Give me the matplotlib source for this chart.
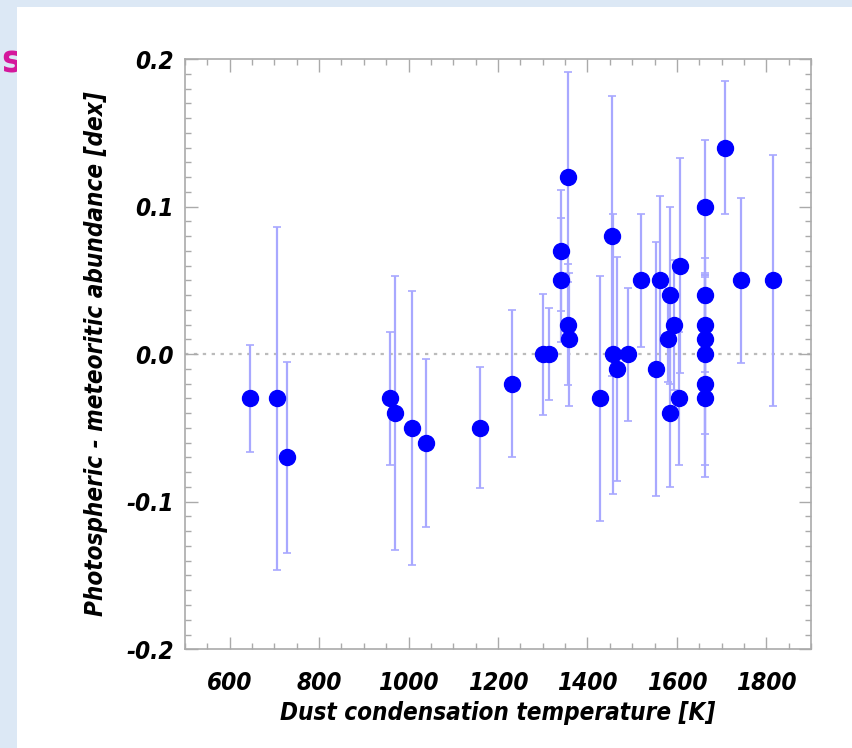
import matplotlib

matplotlib.use("Agg")
import matplotlib.pyplot as plt
from matplotlib.patches import Rectangle
from matplotlib.ticker import MultipleLocator

plt.rcParams["font.family"] = ["DejaVu Sans"]
plt.rcParams["font.stretch"] = "condensed"
plt.rcParams["font.weight"] = "bold"
plt.rcParams["font.style"] = "italic"
plt.rcParams["axes.labelweight"] = "bold"

# condensation temperature [K], abundance difference [dex], 1-sigma error [dex]
temps = [645, 705, 728, 959, 970, 1008, 1039, 1160, 1232, 1300, 1315,
         1340, 1340, 1356, 1356, 1358, 1427, 1454, 1456, 1465, 1490, 1519,
         1553, 1562, 1580, 1584, 1584, 1593, 1604, 1607,
         1663, 1663, 1663, 1663, 1663, 1663, 1663, 1708, 1743, 1815]
diffs = [-0.03, -0.03, -0.07, -0.03, -0.04, -0.05, -0.06, -0.05, -0.02, 0.00, 0.00,
         0.07, 0.05, 0.12, 0.02, 0.01, -0.03, 0.08, 0.00, -0.01, 0.00, 0.05,
         -0.01, 0.05, 0.01, 0.04, -0.04, 0.02, -0.03, 0.06,
         0.10, 0.04, 0.02, 0.01, 0.00, -0.02, -0.03, 0.14, 0.05, 0.05]
errs = [0.036, 0.116, 0.065, 0.045, 0.093, 0.093, 0.057, 0.041, 0.050, 0.041, 0.031,
        0.041, 0.042, 0.071, 0.041, 0.045, 0.083, 0.095, 0.095, 0.076, 0.045, 0.045,
        0.086, 0.057, 0.029, 0.060, 0.050, 0.044, 0.045, 0.073,
        0.045, 0.025, 0.032, 0.044, 0.054, 0.055, 0.053, 0.045, 0.056, 0.085]

x_ticks = [600, 800, 1000, 1200, 1400, 1600, 1800]
y_ticks = [-0.2, -0.1, 0.0, 0.1, 0.2]

fig = plt.figure(figsize=(8.52, 7.48), dpi=100)
fig.patch.set_facecolor("#dce8f5")

# slide-like framing: magenta letter in the left margin, white panel
fig.text(1 / 852, 0.917, "s", color="#d4189c", fontsize=27, fontstyle="normal",
         fontweight="bold", fontstretch="condensed", family=["DejaVu Sans"],
         ha="left", va="center", zorder=-2)
fig.patches.append(Rectangle((17 / 852, 0), 1, 741 / 748, transform=fig.transFigure,
                             facecolor="white", edgecolor="none", zorder=-1))

ax = fig.add_axes([0.217, 0.132, 0.735, 0.789])
ax.axhline(0, color="#bbbbbb", linestyle=(0, (1.5, 2.5)), linewidth=1.6, zorder=1)
ax.errorbar(temps, diffs, yerr=errs, fmt="o", color="#0000ff", markersize=11.5,
            ecolor="#a8a8ff", elinewidth=1.6, capsize=3, capthick=1.2, zorder=3)

ax.set_xlim(500, 1900)
ax.set_ylim(-0.2, 0.2)
ax.set_xticks(x_ticks)
ax.set_yticks(y_ticks)
ax.set_yticklabels([f"{t:.1f}" for t in y_ticks])
ax.xaxis.set_minor_locator(MultipleLocator(50))
ax.yaxis.set_minor_locator(MultipleLocator(0.01))
ax.tick_params(which="both", direction="in", top=True, right=True, color="#aaaaaa",
               labelsize=17.5)
ax.tick_params(which="major", length=9, width=1)
ax.tick_params(which="minor", length=4, width=1)
ax.tick_params(axis="x", pad=16)
ax.tick_params(axis="y", pad=8)
for s in ax.spines.values():
    s.set_color("#aaaaaa")
    s.set_linewidth(1.2)

ax.set_xlabel("Dust condensation temperature [K]", fontsize=17.4, labelpad=4)
ax.set_ylabel("Photospheric - meteoritic abundance [dex]", fontsize=17.4, labelpad=13)

fig.savefig("out.png", dpi=100, facecolor=fig.get_facecolor())
